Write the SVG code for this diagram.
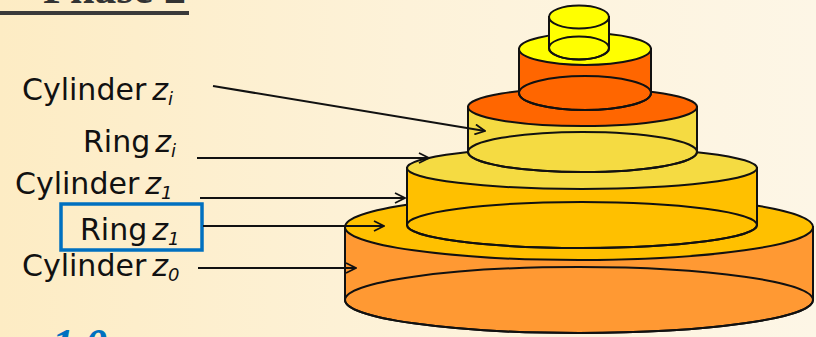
<svg xmlns="http://www.w3.org/2000/svg" width="816" height="337" viewBox="0 0 816 337">
  <defs>
    <linearGradient id="bg" x1="0" y1="0" x2="1" y2="0">
      <stop offset="0" stop-color="#FDECC4"/>
      <stop offset="0.5" stop-color="#FDF2D9"/>
      <stop offset="1" stop-color="#FDF6E6"/>
    </linearGradient>
    <marker id="arrow" viewBox="0 0 12 12" refX="11" refY="6" markerWidth="12" markerHeight="12" markerUnits="userSpaceOnUse" orient="auto">
      <path d="M1,1 L11,6 L1,11" fill="none" stroke="#111" stroke-width="1.8"/>
    </marker>
    <style>
      .edge { stroke: #111; stroke-width: 2; fill: none; marker-end: url(#arrow); }
      .out { stroke: #111; stroke-width: 2; }
      .rim { fill: none; stroke: #111; stroke-width: 2; }
      .label { font-family: "DejaVu Sans", Verdana, sans-serif; font-size: 30px; fill: #111; }
      .var { font-style: italic; }
      .sub { font-style: italic; font-size: 18px; }
    </style>
  </defs>

  <rect width="816" height="337" fill="url(#bg)"/>

  <!-- heading, running off the top edge -->
  <text x="186" y="3" text-anchor="end" font-family="Liberation Serif, serif" font-weight="bold" font-size="44" fill="#333">Phase 2</text>
  <rect x="0" y="11" width="189" height="4" fill="#3a3a3a"/>

  <!-- caption number, running off the bottom edge -->
  <text x="52" y="359" font-family="Liberation Serif, serif" font-weight="bold" font-style="italic" font-size="44" fill="#0070C0">1.0</text>

  <!-- stack of cylinders, bottom to top -->
  <g id="cylinder-z0">
    <path class="out" d="M345,227 L345,300 A234,33 0 0 0 813,300 L813,227 Z" fill="#FF9933"/>
    <ellipse class="rim" cx="579" cy="300" rx="234" ry="33"/>
  </g>
  <g id="ring-z1">
    <ellipse class="out" cx="579" cy="227" rx="234" ry="33" fill="#FFC000"/>
  </g>
  <g id="cylinder-z1">
    <path class="out" d="M407,168 L407,225 A175,23 0 0 0 757,225 L757,168 Z" fill="#FFC000"/>
    <ellipse class="rim" cx="582" cy="225" rx="175" ry="23"/>
  </g>
  <g id="ring-zi">
    <ellipse class="out" cx="582" cy="168" rx="175" ry="21" fill="#F5DB42"/>
  </g>
  <g id="cylinder-zi">
    <path class="out" d="M468,107 L468,152 A114.5,20 0 0 0 697,152 L697,107 Z" fill="#F5DB42"/>
    <ellipse class="rim" cx="582.5" cy="152" rx="114.5" ry="20"/>
  </g>
  <g id="ring-top">
    <ellipse class="out" cx="582.5" cy="107" rx="114.5" ry="19" fill="#FF6600"/>
  </g>
  <g id="cylinder-upper">
    <path class="out" d="M519,49 L519,93 A66,17 0 0 0 651,93 L651,49 Z" fill="#FF6600"/>
    <ellipse class="rim" cx="585" cy="93" rx="66" ry="17"/>
    <ellipse class="out" cx="585" cy="49" rx="66" ry="16" fill="#FFFF00"/>
  </g>
  <g id="cylinder-cap">
    <path class="out" d="M549,17 L549,48 A30,11.5 0 0 0 609,48 L609,17 Z" fill="#FFFF00"/>
    <ellipse class="rim" cx="579" cy="48" rx="30" ry="11.5"/>
    <ellipse class="out" cx="579" cy="17" rx="30" ry="11.5" fill="#FFFF00"/>
  </g>

  <!-- labels -->
  <g id="label-cylinder-zi">
    <text class="label" x="22" y="100">Cylinder<tspan class="var" dx="6">z</tspan><tspan class="sub" dy="5">i</tspan></text>
  </g>
  <g id="label-ring-zi">
    <text class="label" x="83" y="152">Ring<tspan class="var" dx="5">z</tspan><tspan class="sub" dy="5">i</tspan></text>
  </g>
  <g id="label-cylinder-z1">
    <text class="label" x="15" y="194">Cylinder<tspan class="var" dx="6">z</tspan><tspan class="sub" dy="5">1</tspan></text>
  </g>
  <g id="label-ring-z1">
    <rect x="61" y="204" width="141" height="46" fill="none" stroke="#0070C0" stroke-width="3.5"/>
    <text class="label" x="80" y="240">Ring<tspan class="var" dx="5">z</tspan><tspan class="sub" dy="5">1</tspan></text>
  </g>
  <g id="label-cylinder-z0">
    <text class="label" x="22" y="276">Cylinder<tspan class="var" dx="6">z</tspan><tspan class="sub" dy="5">0</tspan></text>
  </g>

  <!-- connectors -->
  <g id="connectors">
    <line class="edge" x1="213" y1="86" x2="485" y2="131"/>
    <line class="edge" x1="197" y1="158" x2="429" y2="158"/>
    <line class="edge" x1="200" y1="198" x2="405" y2="198"/>
    <line class="edge" x1="203" y1="226" x2="384" y2="226"/>
    <line class="edge" x1="198" y1="268" x2="356" y2="268"/>
  </g>
</svg>
